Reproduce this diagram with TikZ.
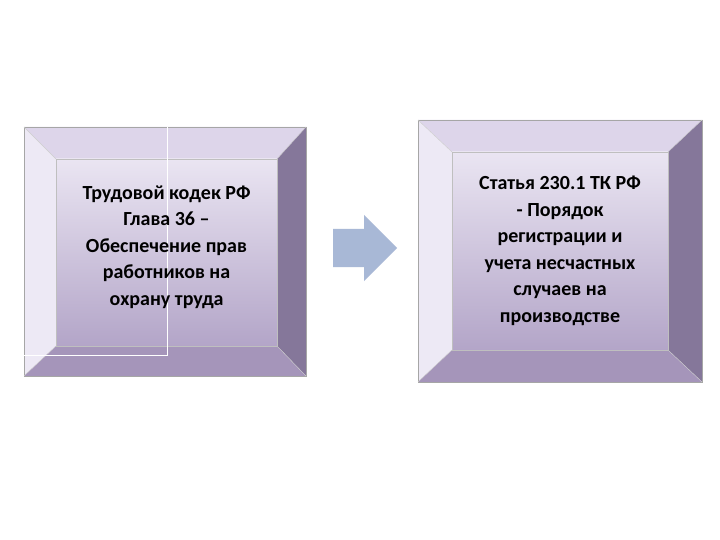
\documentclass[tikz,border=0pt]{standalone}
\usepackage{fontspec}
\setmainfont{Carlito}
\newcommand{\bevelbox}[8]{%
 \fill[bt] (#1,#2) -- (#3,#2) -- (#7,#6) -- (#5,#6) -- cycle;
 \fill[bl] (#1,#2) -- (#5,#6) -- (#5,#8) -- (#1,#4) -- cycle;
 \fill[br] (#3,#2) -- (#3,#4) -- (#7,#8) -- (#7,#6) -- cycle;
 \fill[bb] (#1,#4) -- (#5,#8) -- (#7,#8) -- (#3,#4) -- cycle;
 \shade[top color=ctop,bottom color=cbot] (#5,#6) rectangle (#7,#8);
 \draw[gray!70,line width=0.6pt] (#1,#2) rectangle (#3,#4);
 \draw[white!60!gray,line width=0.4pt] (#1,#2) -- (#5,#6) (#3,#2) -- (#7,#6) (#1,#4) -- (#5,#8) (#3,#4) -- (#7,#8);
 \draw[gray!50,line width=0.4pt] (#5,#6) rectangle (#7,#8);
}
\begin{document}
\begin{tikzpicture}[x=1pt,y=-1pt,
  txt/.style={align=center,font=\fontsize{20}{26.5}\selectfont\bfseries,text=black}]
\definecolor{bt}{HTML}{DDD5EA}
\definecolor{bl}{HTML}{EDE9F5}
\definecolor{br}{HTML}{85779A}
\definecolor{bb}{HTML}{A595BA}
\definecolor{ctop}{HTML}{EAE5F2}
\definecolor{cbot}{HTML}{B3A5C8}
\definecolor{arr}{HTML}{A8B8D6}
\useasboundingbox (0,0) rectangle (720,540);
\fill[white] (0,0) rectangle (720,540);
\bevelbox{24}{127}{306}{376}{56}{159}{277}{346}
\draw[white,line width=0.8pt] (167,127) -- (167,355) -- (24,355);
\bevelbox{418}{120}{702}{382}{452}{152}{668}{350}
\node[txt] (left) at (166.5,247) {Трудовой кодек РФ\\Глава 36 –\\Обеспечение прав\\работников на\\охрану труда};
\node[txt] (right) at (560,251) {Статья 230.1 ТК РФ\\- Порядок\\регистрации и\\учета несчастных\\случаев на\\производстве};
\fill[arr] (333,229) -- (364,229) -- (364,215) -- (397,248) -- (364,281) -- (364,267) -- (333,267) -- cycle;
\end{tikzpicture}
\end{document}
